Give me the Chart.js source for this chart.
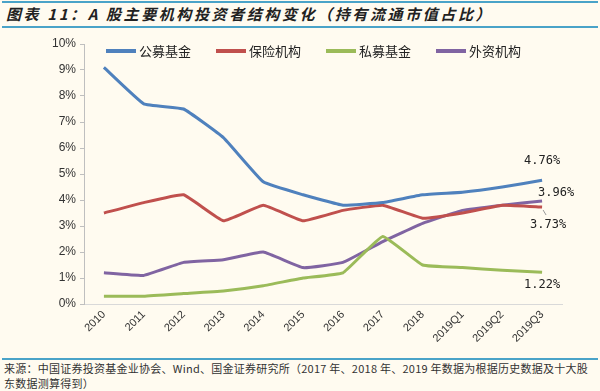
<!DOCTYPE html>
<html>
<head>
<meta charset="utf-8">
<script src="https://cdn.jsdelivr.net/npm/chart.js@4/dist/chart.umd.min.js"></script>
<style>
  body { margin: 0; width: 600px; height: 391px; background: #FFFBF0; position: relative; overflow: hidden;
         font-family: "Noto Sans CJK SC", "Liberation Sans", sans-serif; }
  .rule { position: absolute; left: 2px; width: 596px; height: 2px; background: #4AA3C8; }
  #titulo { position: absolute; left: 6px; top: 3px; font-size: 15px; font-weight: bold; font-style: italic; color: #222; letter-spacing: 2.6px; }
  #fuente { position: absolute; left: 4px; top: 361px; width: 594px; font-size: 11px; line-height: 15px; color: #333; white-space: nowrap; letter-spacing: 0.25px; }
  #wrap { position: absolute; left: 0; top: 30px; width: 600px; height: 325px; }
</style>
</head>
<body>
<div class="rule" style="top:1px"></div>
<div id="titulo">图表 11：A 股主要机构投资者结构变化（持有流通市值占比）</div>
<div class="rule" style="top:26px"></div>
<div id="wrap"><canvas id="grafico"></canvas></div>
<div class="rule" style="top:358px"></div>
<div id="fuente">来源：中国证券投资基金业协会、Wind、国金证券研究所（2017 年、2018 年、2019 年数据为根据历史数据及十大股<br>东数据测算得到）</div>
<script>
// categorías del eje x
const periodos = ['2010', '2011', '2012', '2013', '2014', '2015', '2016', '2017', '2018', '2019Q1', '2019Q2', '2019Q3'];

// series (% del valor de mercado en circulación)
const gongmu = [9.1, 7.7, 7.5, 6.4, 4.7, 4.2, 3.8, 3.9, 4.2, 4.3, 4.5, 4.76];
const baoxian = [3.5, 3.9, 4.2, 3.2, 3.8, 3.2, 3.6, 3.8, 3.3, 3.5, 3.8, 3.73];
const simu = [0.3, 0.3, 0.4, 0.5, 0.7, 1.0, 1.2, 2.6, 1.5, 1.4, 1.3, 1.22];
const waizi = [1.2, 1.1, 1.6, 1.7, 2.0, 1.4, 1.6, 2.4, 3.1, 3.6, 3.8, 3.96];

const nombres = ['公募基金', '保险机构', '私募基金', '外资机构'];
const colores = ['#4F81BD', '#C0504D', '#9BBB59', '#8064A2'];

// etiquetas del último punto: desplazamiento relativo al punto
const etiquetasFinales = [
  { dx: 0, dy: -19 },
  { dx: 6, dy: 18, guia: true },
  { dx: 0, dy: 13 },
  { dx: 14, dy: -8 }
];

const pluginEtiquetas = {
  id: 'etiquetasFinales',
  afterDatasetsDraw(chart) {
    const ctx = chart.ctx;
    ctx.save();
    ctx.font = '12px "DejaVu Sans Mono", monospace';
    ctx.fillStyle = '#222';
    ctx.textAlign = 'center';
    ctx.textBaseline = 'middle';
    chart.data.datasets.forEach((ds, i) => {
      const meta = chart.getDatasetMeta(i);
      const p = meta.data[meta.data.length - 1];
      const cfg = etiquetasFinales[i];
      const valor = ds.data[ds.data.length - 1].toFixed(2) + '%';
      if (cfg.guia) {
        ctx.strokeStyle = '#999';
        ctx.lineWidth = 1;
        ctx.beginPath();
        ctx.moveTo(p.x + 1, p.y + 3);
        ctx.lineTo(p.x + 4, p.y + 8);
        ctx.stroke();
      }
      ctx.fillText(valor, p.x + cfg.dx, p.y + cfg.dy);
    });
    ctx.restore();
  }
};

// leyenda en una sola fila dentro del área del gráfico
const pluginLeyenda = {
  id: 'leyendaFila',
  afterDraw(chart) {
    const ctx = chart.ctx;
    const area = chart.chartArea;
    const y = area.top + 7;
    ctx.save();
    ctx.font = '13px "Noto Sans CJK SC", sans-serif';
    ctx.textBaseline = 'middle';
    ctx.textAlign = 'left';
    chart.data.datasets.forEach((ds, i) => {
      const x = area.left + 22 + i * 110;
      ctx.strokeStyle = ds.borderColor;
      ctx.lineWidth = 4;
      ctx.beginPath();
      ctx.moveTo(x, y);
      ctx.lineTo(x + 30, y);
      ctx.stroke();
      ctx.fillStyle = '#222';
      ctx.fillText(ds.label, x + 33, y);
    });
    ctx.restore();
  }
};

const ctx = document.getElementById('grafico').getContext('2d');
new Chart(ctx, {
  type: 'line',
  data: {
    labels: periodos,
    datasets: [gongmu, baoxian, simu, waizi].map((serie, i) => ({
      label: nombres[i],
      data: serie,
      borderColor: colores[i],
      backgroundColor: colores[i],
      borderWidth: 3,
      pointRadius: 0,
      tension: 0.1,
      fill: false
    }))
  },
  options: {
    responsive: true,
    maintainAspectRatio: false,
    animation: false,
    layout: { padding: { left: 0, right: 38, top: 14, bottom: 0 } },
    plugins: {
      legend: { display: false },
      tooltip: { enabled: false }
    },
    scales: {
      x: {
        offset: true,
        afterFit(scale) { scale.height = 51; },
        grid: { display: false, drawTicks: false },
        border: { color: '#D9D9D9', width: 1 },
        ticks: {
          color: '#333',
          font: { size: 11, family: '"Liberation Sans", Arial, sans-serif' },
          maxRotation: 45,
          minRotation: 45,
          autoSkip: false,
          padding: 4
        }
      },
      y: {
        min: 0,
        max: 10,
        afterFit(scale) { scale.width = 84; },
        grid: { drawOnChartArea: false, tickLength: 4, color: '#BFBFBF' },
        border: { color: '#BFBFBF', width: 1 },
        ticks: {
          stepSize: 1,
          color: '#333',
          padding: 4,
          font: { size: 12, family: '"Liberation Sans", Arial, sans-serif' },
          callback: v => v + '%'
        }
      }
    }
  },
  plugins: [pluginEtiquetas, pluginLeyenda]
});
</script>
</body>
</html>
